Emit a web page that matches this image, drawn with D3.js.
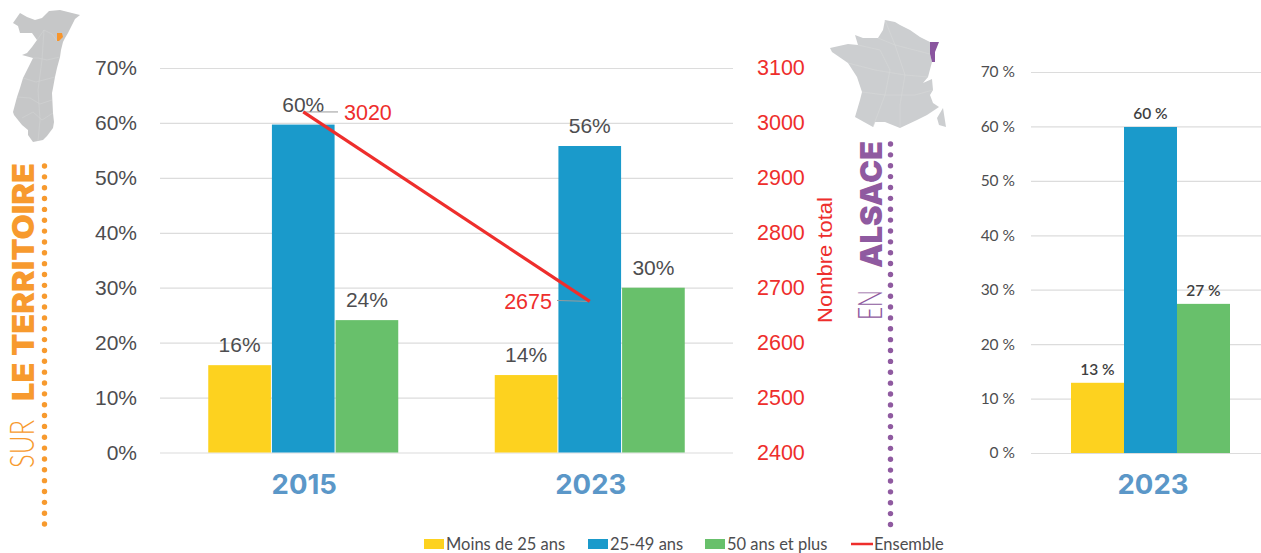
<!DOCTYPE html>
<html><head><meta charset="utf-8">
<script src="https://cdn.jsdelivr.net/npm/d3@7/dist/d3.min.js"></script>
<style>html,body{margin:0;padding:0;background:#fff;overflow:hidden}svg{display:block}text{font-family:"Liberation Sans",Arial,sans-serif}</style>
</head><body><svg id="c" width="1261" height="553"></svg>
<script>
const years=["2015","2023"];
const groups=["Moins de 25 ans","25-49 ans","50 ans et plus"];
const colors=["#fdd21f","#1a9acb","#68c06b"];
const moins25=[15.9,14.1];
const age2549=[59.7,55.8];
const plus50=[24.1,30];
const labelsM=["16%","14%"];
const labelsA=["60%","56%"];
const labelsP=["24%","30%"];
const ensemble=[3020,2675];
const alsaceValues=[12.9,59.9,27.4];
const alsaceLabels=["13 %","60 %","27 %"];
const pctTicks=[0,10,20,30,40,50,60,70];
const countTicks=[2400,2500,2600,2700,2800,2900,3000,3100];
const alsaceShape=[[20,13],[27,17],[35,20],[42,18],[46,14],[49,11],[60,10],[72,13],[80,15],[75,19],[72,25],[68,33],[65,38],[63,42],[61,50],[60,57],[57,68],[55,77],[53,88],[52,93],[53,113],[54,122],[53,128],[47,136],[43,140],[33,142],[28,135],[28,130],[22,125],[14,115],[13,112],[17,97],[20,88],[23,78],[28,68],[33,58],[22,55],[27,53],[32,47],[37,40],[32,33],[24,33],[20,33],[18,26],[13,23]];
const communeShape=[[57,33],[62,33],[63,37],[59,41],[57,41]];
const alsaceBorders=[[[37,40],[44,30],[52,34],[57,41]],[[33,58],[38,58],[47,60],[60,57]],[[23,78],[36,82],[55,77]],[[17,97],[30,98],[40,104],[52,100]],[[22,118],[33,112],[42,120],[53,113]],[[44,30],[42,60],[38,90],[40,120],[38,141]]];
const franceShape=[[885,20],[895,22],[900,25],[910,30],[920,37],[930,42],[930,54],[932,62],[928,77],[923,83],[932,79],[933,90],[930,95],[933,103],[939,107],[927,115],[917,120],[900,128],[885,122],[875,122],[873,127],[855,117],[860,100],[862,92],[857,77],[848,63],[832,52],[830,48],[848,44],[858,45],[855,35],[863,38],[878,38],[883,30]];
const corsicaShape=[[943,108],[946,127],[939,125],[937,118]];
const regionShape=[[930,42],[939,42],[935,52],[935,62],[932,62],[930,54]];
const franceBorders=[[[858,45],[880,50],[890,70],[885,95],[873,127]],[[885,20],[895,45],[905,75],[900,105],[900,128]],[[848,63],[875,70],[905,75],[928,77]],[[862,92],[885,95],[915,95],[933,90]],[[878,38],[895,45],[930,54]]];

const svg=d3.select("#c");
const line=d3.line().curve(d3.curveLinearClosed);
const open=d3.line();
const y=d3.scaleLinear().domain([0,70]).range([452.5,68]);
const yR=d3.scaleLinear().domain([2400,3100]).range([452.5,68]);
const x=d3.scaleBand().domain(years).range([160,733]);
const xg=d3.scaleBand().domain(groups).range([x.bandwidth()/2-95.5,x.bandwidth()/2+95.5]);
const y2=d3.scaleLinear().domain([0,70]).range([453,72]);
const xg2=d3.scaleBand().domain(groups).range([1071,1230]);

// maps
svg.append("path").attr("d",line(alsaceShape)).attr("fill","#c6c7c8");
alsaceBorders.forEach(b=>svg.append("path").attr("d",open(b)).attr("fill","none").attr("stroke","#d2d3d4").attr("stroke-width",.6));
svg.append("path").attr("d",line(communeShape)).attr("fill","#f7952c");
svg.append("path").attr("d",line(franceShape)).attr("fill","#ccced0");
franceBorders.forEach(b=>svg.append("path").attr("d",open(b)).attr("fill","none").attr("stroke","#d7d8d9").attr("stroke-width",.6));
svg.append("path").attr("d",line(corsicaShape)).attr("fill","#ccced0");
svg.append("path").attr("d",line(regionShape)).attr("fill","#8a559f");

// left gridlines and axes
const gridL=d3.axisLeft(y).tickValues(pctTicks).tickSize(-573).tickFormat(d=>d+"%").tickPadding(23);
const gl=svg.append("g").attr("transform","translate(160,0)").call(gridL);
gl.select(".domain").remove();
gl.selectAll("line").attr("stroke","#dcdcdc").attr("stroke-width",1.2);
gl.selectAll("text").attr("fill","#4d4d4f").attr("font-size",21);
const axR=d3.axisRight(yR).tickValues(countTicks).tickSize(0).tickFormat(d3.format("d")).tickPadding(24);
const gr=svg.append("g").attr("transform","translate(733,0)").call(axR);
gr.select(".domain").remove();
gr.selectAll("text").attr("fill","#ee2e2c").attr("font-size",21.5);

// bars
const series=[moins25,age2549,plus50], seriesLabels=[labelsM,labelsA,labelsP];
groups.forEach((g,i)=>{
  const gg=svg.append("g");
  gg.selectAll("rect").data(years).join("rect")
    .attr("x",d=>x(d)+xg(g)+.5).attr("width",xg.bandwidth()-1)
    .attr("y",(d,j)=>y(series[i][j])).attr("height",(d,j)=>y(0)-y(series[i][j])).attr("fill",colors[i]);
  gg.selectAll("text").data(years).join("text")
    .attr("x",d=>x(d)+xg(g)+xg.bandwidth()/2).attr("y",(d,j)=>y(series[i][j])-13)
    .attr("text-anchor","middle").attr("font-size",21).attr("fill","#4d4d4f")
    .text((d,j)=>seriesLabels[i][j]);
});
svg.append("line").attr("x1",x("2015")+x.bandwidth()/2).attr("x2",338).attr("y1",yR(3020)).attr("y2",yR(3020)).attr("stroke","#9a9a9a");
svg.append("line").attr("x1",557).attr("x2",x("2023")+x.bandwidth()/2).attr("y1",yR(2675)-1).attr("y2",yR(2675)).attr("stroke","#9a9a9a");
const lx=d=>x(d)+x.bandwidth()/2;
svg.append("path").datum(years).attr("fill","none").attr("stroke","#ee2e2c").attr("stroke-width",3.2)
  .attr("d",d3.line().x(lx).y((d,i)=>yR(ensemble[i])));
svg.append("text").attr("x",344).attr("y",yR(3020)+8).attr("font-size",21.5).attr("fill","#ee2e2c").text(ensemble[0]);
svg.append("text").attr("x",552).attr("y",yR(2675)+8).attr("text-anchor","end").attr("font-size",21.5).attr("fill","#ee2e2c").text(ensemble[1]);
svg.append("text").attr("transform","translate(832,323) rotate(-90)").attr("font-size",21)
  .attr("textLength",126).attr("lengthAdjust","spacingAndGlyphs").attr("fill","#ee2e2c").text("Nombre total");

// year labels
const yearFont='Inter,sans-serif';
svg.selectAll(".yr").data(years).join("text").attr("x",d=>lx(d)+1).attr("y",494).attr("text-anchor","middle")
  .style("font-family",yearFont).attr("font-weight",700).attr("font-size",27.5).attr("fill","#5b97c8").text(d=>d);

// right chart
const axA=d3.axisLeft(y2).tickValues(pctTicks).tickSize(-230).tickFormat(d=>d+" %").tickPadding(16);
const ga=svg.append("g").attr("transform","translate(1031,0)").call(axA);
ga.select(".domain").remove();
ga.selectAll("line").attr("stroke","#dcdcdc").attr("stroke-width",1.2);
ga.selectAll("text").style("font-family",'Lato,sans-serif').attr("fill","#4d4d4f").attr("font-size",15.5);
svg.append("g").selectAll("rect").data(groups).join("rect")
  .attr("x",d=>xg2(d)).attr("width",xg2.bandwidth()).attr("y",(d,i)=>y2(alsaceValues[i]))
  .attr("height",(d,i)=>y2(0)-y2(alsaceValues[i])).attr("fill",(d,i)=>colors[i]);
svg.append("g").selectAll("text").data(groups).join("text")
  .attr("x",d=>xg2(d)+xg2.bandwidth()/2).attr("y",(d,i)=>y2(alsaceValues[i])-8).attr("text-anchor","middle")
  .style("font-family",'Lato,sans-serif').attr("font-weight",600).attr("font-size",15.5).attr("fill","#3f3f41").text((d,i)=>alsaceLabels[i]);
svg.append("text").attr("x",1153).attr("y",494).attr("text-anchor","middle")
  .style("font-family",yearFont).attr("font-weight",700).attr("font-size",27.5).attr("fill","#5b97c8").text("2023");

// side titles
function side(tx,ty,label,font,weight,len,col,size){
  svg.append("text").attr("transform",`translate(${tx},${ty}) rotate(-90)`).style("font-family",font)
    .attr("font-weight",weight).attr("font-size",size).attr("fill",col)
    .attr("textLength",len).attr("lengthAdjust","spacingAndGlyphs").text(label);
}
side(34,468,"SUR","Lato,sans-serif",300,48,"#f79a2e",33);
side(34,401,"LE TERRITOIRE","Inter,sans-serif",900,238,"#f79a2e",30);
side(882,320,"EN","Lato,sans-serif",300,30,"#8f5aa0",34);
side(882,268,"ALSACE","Inter,sans-serif",900,127,"#8f5aa0",30);
const dotsO=d3.range(34), dotsP=d3.range(36);
svg.append("g").selectAll("circle").data(dotsO).join("circle").attr("cx",44.5).attr("cy",d=>166+d*10.85).attr("r",2.7).attr("fill","#f79a2e");
svg.append("g").selectAll("circle").data(dotsP).join("circle").attr("cx",890.5).attr("cy",d=>144+d*10.87).attr("r",2.7).attr("fill","#8f5aa0");

// legend
const legendItems=[{n:groups[0],x:424,t:446,c:colors[0]},{n:groups[1],x:588,t:610,c:colors[1]},{n:groups[2],x:705,t:727,c:colors[2]}];
const lg=svg.append("g");
lg.selectAll("rect").data(legendItems).join("rect").attr("x",d=>d.x).attr("y",539).attr("width",20).attr("height",10).attr("fill",d=>d.c);
lg.selectAll("text").data(legendItems).join("text").attr("x",d=>d.t).attr("y",550).style("font-family","Lato,sans-serif").attr("font-size",16.5).attr("fill","#4d4d4f").text(d=>d.n);
lg.append("line").attr("x1",851).attr("x2",873).attr("y1",544).attr("y2",544).attr("stroke","#ee2e2c").attr("stroke-width",2.5);
lg.append("text").attr("x",874).attr("y",550).style("font-family","Lato,sans-serif").attr("font-size",16.5).attr("fill","#4d4d4f").text("Ensemble");
</script></body></html>
